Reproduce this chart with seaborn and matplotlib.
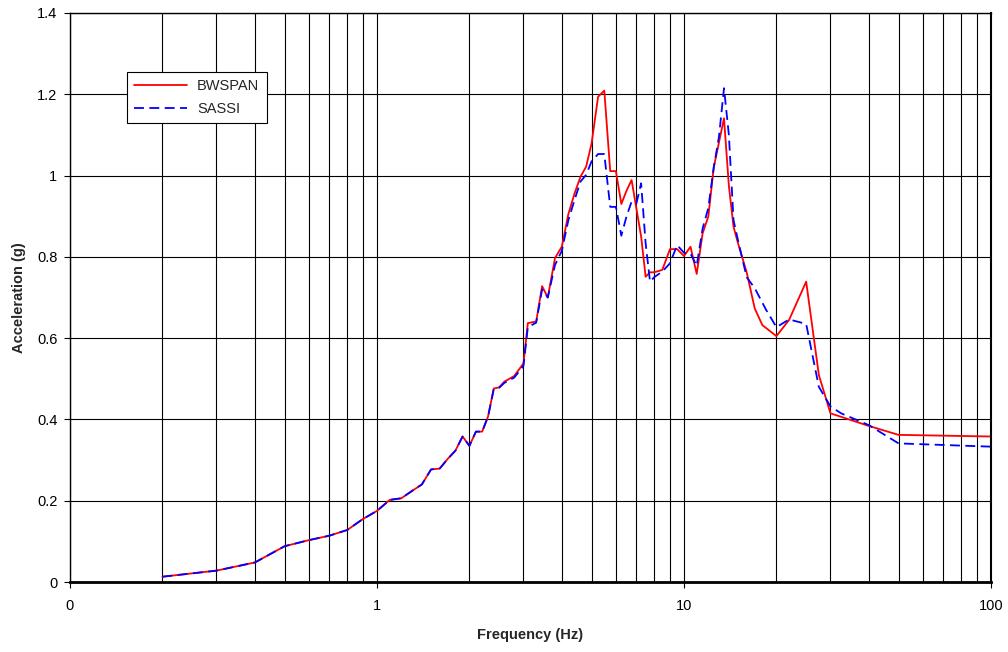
import numpy as np
import pandas as pd
import matplotlib
matplotlib.use("Agg")
import matplotlib.pyplot as plt
import seaborn as sns

freq_bwspan = [0.2, 0.3, 0.4, 0.5, 0.6, 0.7, 0.8, 0.9, 1.0, 1.1, 1.2, 1.3, 1.4, 1.5, 1.6, 1.7, 1.8, 1.9,
               2.0, 2.1, 2.2, 2.3, 2.4, 2.5, 2.6, 2.8, 3.0, 3.1, 3.3, 3.45, 3.6, 3.8, 4.0, 4.2, 4.4, 4.6,
               4.8, 5.0, 5.25, 5.5, 5.75, 6.0, 6.25, 6.5, 6.75, 7.25, 7.5, 7.75, 8.0, 8.5, 9.0, 9.5,
               10.0, 10.5, 11.0, 11.5, 12.0, 12.5, 13.5, 14.0, 14.5, 15.0, 16.0, 17.0, 18.0, 20.0,
               22.0, 25.0, 27.5, 30.0, 40.0, 50.0, 100.0]
acc_bwspan = [0.013, 0.028, 0.048, 0.088, 0.103, 0.114, 0.128, 0.155, 0.175, 0.202, 0.206, 0.224, 0.240,
              0.277, 0.279, 0.303, 0.323, 0.358, 0.335, 0.370, 0.370, 0.407, 0.476, 0.479, 0.493, 0.507,
              0.538, 0.637, 0.641, 0.728, 0.700, 0.797, 0.825, 0.905, 0.956, 0.997, 1.022, 1.079, 1.194,
              1.209, 1.011, 1.011, 0.930, 0.963, 0.989, 0.850, 0.751, 0.762, 0.762, 0.768, 0.819, 0.819,
              0.802, 0.825, 0.758, 0.858, 0.899, 1.020, 1.141, 0.975, 0.874, 0.833, 0.762, 0.673, 0.632,
              0.605, 0.645, 0.739, 0.509, 0.415, 0.384, 0.362, 0.358]

freq_sassi = [0.2, 0.3, 0.4, 0.5, 0.6, 0.7, 0.8, 0.9, 1.0, 1.1, 1.2, 1.3, 1.4, 1.5, 1.6, 1.7, 1.8, 1.9,
              2.0, 2.1, 2.2, 2.3, 2.4, 2.5, 2.6, 2.8, 3.0, 3.1, 3.3, 3.45, 3.6, 3.8, 4.0, 4.2, 4.4, 4.6,
              4.8, 5.0, 5.25, 5.5, 5.75, 6.0, 6.25, 6.5, 6.75, 7.0, 7.25, 7.5, 7.75, 8.0, 8.5, 9.0, 9.5,
              10.0, 10.5, 11.0, 11.5, 12.0, 12.5, 13.0, 13.5, 14.0, 14.5, 15.0, 16.0, 17.0, 18.5, 20.0,
              22.0, 25.0, 27.5, 30.0, 32.5, 40.0, 50.0, 100.0]
acc_sassi = [0.013, 0.028, 0.048, 0.088, 0.103, 0.114, 0.128, 0.155, 0.175, 0.202, 0.206, 0.224, 0.240,
             0.277, 0.279, 0.303, 0.323, 0.358, 0.335, 0.370, 0.370, 0.407, 0.474, 0.478, 0.490, 0.503,
             0.532, 0.627, 0.638, 0.720, 0.700, 0.780, 0.815, 0.890, 0.940, 0.985, 1.002, 1.035, 1.053,
             1.053, 0.923, 0.923, 0.852, 0.900, 0.936, 0.932, 0.981, 0.833, 0.739, 0.750, 0.764, 0.784,
             0.829, 0.810, 0.808, 0.778, 0.870, 0.920, 1.020, 1.096, 1.215, 1.100, 0.890, 0.840, 0.750,
             0.723, 0.670, 0.627, 0.646, 0.635, 0.480, 0.432, 0.415, 0.386, 0.341, 0.333]

x_ticks = [0.1, 1, 10, 100]
x_tick_labels = ["0", "1", "10", "100"]
y_ticks = [0, 0.2, 0.4, 0.6, 0.8, 1.0, 1.2, 1.4]
y_tick_labels = ["0", "0.2", "0.4", "0.6", "0.8", "1", "1.2", "1.4"]

df = pd.concat([
    pd.DataFrame({"Frequency": freq_bwspan, "Acceleration": acc_bwspan, "Series": "BWSPAN"}),
    pd.DataFrame({"Frequency": freq_sassi, "Acceleration": acc_sassi, "Series": "SASSI"}),
], ignore_index=True)

sns.set_theme(style="white")
plt.rcParams["font.family"] = ["Liberation Sans", "DejaVu Sans"]

fig = plt.figure(figsize=(10.08, 6.52), dpi=100)
ax = fig.add_axes([70 / 1008, 1 - 582 / 652, 921 / 1008, 569 / 652])

sns.lineplot(data=df, x="Frequency", y="Acceleration", hue="Series", style="Series",
             palette={"BWSPAN": "#ff0000", "SASSI": "#0000ff"},
             dashes={"BWSPAN": "", "SASSI": (5.5, 3)},
             linewidth=1.3, ax=ax, estimator=None, sort=False)

ax.set_xscale("log")
ax.set_xlim(0.1, 100)
ax.set_ylim(0, 1.4)

ax.set_xticks(x_ticks)
ax.set_xticklabels(x_tick_labels, fontsize=10.5)
ax.xaxis.set_minor_locator(matplotlib.ticker.LogLocator(base=10, subs=np.arange(2, 10)))
ax.xaxis.set_minor_formatter(matplotlib.ticker.NullFormatter())
ax.set_yticks(y_ticks)
ax.set_yticklabels(y_tick_labels, fontsize=10.5)

ax.grid(True, which="both", axis="x", color="black", linewidth=0.8)
ax.grid(True, which="major", axis="y", color="black", linewidth=0.8)
ax.set_axisbelow(True)

ax.tick_params(axis="both", which="major", direction="out", length=4, width=0.8,
               color="black", bottom=True, left=True, labelcolor="black")
ax.tick_params(axis="y", which="major", pad=5)
ax.tick_params(axis="x", which="minor", bottom=False)
ax.tick_params(axis="x", which="major", pad=8)

for side, lw in [("left", 1.0), ("right", 1.5), ("top", 1.0), ("bottom", 2.0)]:
    ax.spines[side].set_visible(True)
    ax.spines[side].set_color("black")
    ax.spines[side].set_linewidth(lw)

ax.set_xlabel("Frequency (Hz)", fontsize=10.5, fontweight="bold", labelpad=11)
ax.set_ylabel("Acceleration (g)", fontsize=10.5, fontweight="bold", labelpad=8)

leg = ax.legend(loc="upper left", bbox_to_anchor=(0.062, 0.897), borderaxespad=0,
                frameon=True, fancybox=False, shadow=False, fontsize=10.5,
                handlelength=3.6, handletextpad=0.7, borderpad=0.5, labelspacing=0.6)
leg.get_frame().set_edgecolor("black")
leg.get_frame().set_linewidth(0.8)
leg.get_frame().set_facecolor("white")
leg.get_frame().set_alpha(1)

fig.savefig("out.png", dpi=100)
